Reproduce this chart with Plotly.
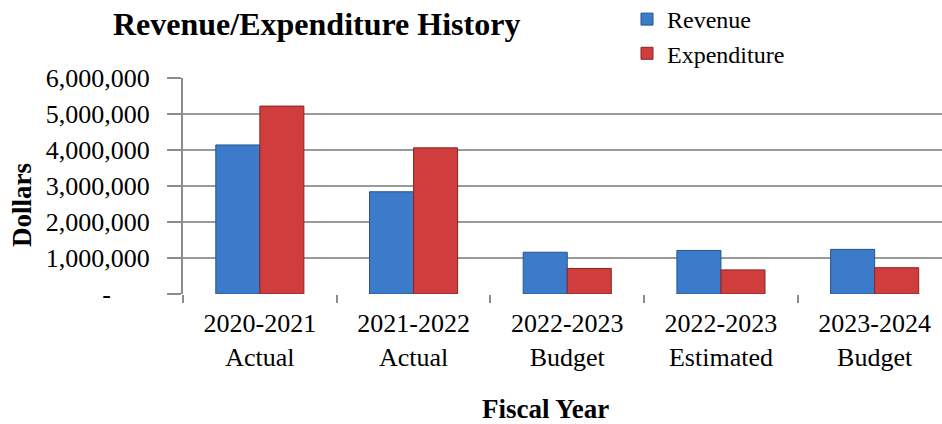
import plotly.graph_objects as go

categories = ["2020-2021<br>Actual", "2021-2022<br>Actual", "2022-2023<br>Budget",
              "2022-2023<br>Estimated", "2023-2024<br>Budget"]
revenue = [4140000, 2840000, 1160000, 1210000, 1240000]
expenditure = [5220000, 4060000, 710000, 670000, 730000]
ytick_vals = [0, 1000000, 2000000, 3000000, 4000000, 5000000, 6000000]
ytick_text = ["-" + "\u00a0" * 6, "1,000,000", "2,000,000", "3,000,000",
              "4,000,000", "5,000,000", "6,000,000"]

FONT = "Liberation Serif"

fig = go.Figure()
fig.add_trace(go.Bar(name="Revenue", x=categories, y=revenue,
                     marker=dict(color="#3B7BCA", line=dict(color="#25548F", width=1)),
                     legendgroup="a"))
fig.add_trace(go.Bar(name="Expenditure", x=categories, y=expenditure,
                     marker=dict(color="#CF3D3D", line=dict(color="#8A2424", width=1)),
                     legendgroup="b"))

fig.update_layout(
    template="none",
    width=942, height=424,
    margin=dict(l=183, r=0, t=78, b=130, autoexpand=False),
    paper_bgcolor="white", plot_bgcolor="white",
    font=dict(family=FONT, color="black", size=26),
    barmode="group", bargap=0.427, bargroupgap=0,
    title=dict(text="<b>Revenue/Expenditure History</b>",
               font=dict(family=FONT, size=32, color="black"),
               x=113 / 942, xanchor="left", xref="container",
               y=1 - 24 / 424, yanchor="middle", yref="container"),
    legend=dict(x=(627 - 183) / 759, xanchor="left", y=1 + 81 / 216, yanchor="top",
                font=dict(family=FONT, size=24, color="black"),
                bgcolor="rgba(0,0,0,0)", traceorder="grouped", tracegroupgap=0,
                itemwidth=30),
    showlegend=True,
)

fig.update_xaxes(
    range=[-0.5, -0.5 + 759 / 153.7],
    automargin=False,
    showline=False, showgrid=False, zeroline=False,
    ticks="outside", tickson="boundaries", ticklen=8, tickcolor="#8c8c8c", tickwidth=2,
    tickfont=dict(family=FONT, size=26, color="black"),
    ticklabelstandoff=11,
)
fig.update_yaxes(
    range=[0, 6000000],
    automargin=False,
    tickvals=ytick_vals, ticktext=ytick_text,
    showgrid=True, gridcolor="#9a9a9a", gridwidth=2,
    showline=True, linecolor="#8c8c8c", linewidth=2,
    ticks="outside", ticklen=14, tickcolor="#8c8c8c", tickwidth=2,
    tickfont=dict(family=FONT, size=26, color="black"),
    ticklabelstandoff=12,
    zeroline=False,
)

fig.add_annotation(text="<b>Dollars</b>", textangle=-90, xref="paper", yref="paper",
                   x=(22 - 183) / 759, y=(294 - 205) / 216, xanchor="center", yanchor="middle",
                   showarrow=False, font=dict(family=FONT, size=27, color="black"))
fig.add_annotation(text="<b>Fiscal Year</b>", xref="paper", yref="paper",
                   x=(545 - 183) / 759, y=(294 - 409) / 216, xanchor="center", yanchor="middle",
                   showarrow=False, font=dict(family=FONT, size=27, color="black"))

fig.write_html("out.html",
               config={"displayModeBar": False},
               post_script="document.body.style.margin='0';document.body.style.padding='0';")
